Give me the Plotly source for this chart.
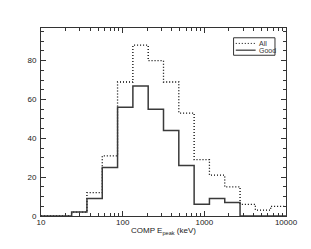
import numpy as np
import plotly.graph_objects as go

# 16 logarithmic bins from 10 keV to 10000 keV
bin_edges = np.logspace(1, 4, 17)
all_counts = [0, 0, 2, 12, 31, 69, 88, 80, 69, 53, 29, 21, 15, 6, 3, 5]
good_counts = [0, 0, 2, 9, 25, 56, 67, 55, 44, 26, 6, 9, 7, 0, 0, 0]
x_tickvals = [10, 100, 1000, 10000]
x_ticktext = ["10", "100", "1000", "10000"]
y_tickvals = [0, 20, 40, 60, 80]
x_title = "COMP E<sub>peak</sub> (keV)"

FONT = "Liberation Sans, Arial, sans-serif"

fig = go.Figure()
fig.add_trace(go.Scatter(
    x=list(bin_edges), y=all_counts + [all_counts[-1]],
    mode="lines", line=dict(shape="hv", color="black", width=1.3, dash="1px,2px"),
    name="All", showlegend=False))
fig.add_trace(go.Scatter(
    x=list(bin_edges), y=good_counts + [good_counts[-1]],
    mode="lines", line=dict(shape="hv", color="#3a3a3a", width=1.5),
    name="Good", showlegend=False))

minor_x = [m * d for d in (10, 100, 1000) for m in range(2, 10)]

fig.update_xaxes(
    type="log", range=[1, 4],
    tickmode="array", tickvals=x_tickvals, ticktext=x_ticktext,
    ticks="inside", ticklen=5, tickwidth=1, tickcolor="#333",
    minor=dict(tickmode="array", tickvals=minor_x, ticks="inside", ticklen=3,
               tickcolor="#333", showgrid=False),
    showline=True, linecolor="#333", linewidth=1, mirror="ticks",
    showgrid=False, zeroline=False,
    ticklabelstandoff=-2,
    tickfont=dict(family=FONT, size=8, color="#222"),
)
fig.update_yaxes(
    range=[0, 96.8],
    tickmode="array", tickvals=y_tickvals,
    ticks="inside", ticklen=5, tickwidth=1, tickcolor="#333",
    minor=dict(dtick=5, ticks="inside", ticklen=3, tickcolor="#333", showgrid=False),
    showline=True, linecolor="#333", linewidth=1, mirror="ticks",
    showgrid=False, zeroline=False,
    ticklabelstandoff=2,
    tickfont=dict(family=FONT, size=8, color="#222"),
)

# x-axis title
fig.add_annotation(xref="paper", yref="paper", x=0.5, y=-0.082, text=x_title,
                   showarrow=False, xanchor="center", yanchor="middle",
                   font=dict(family=FONT, size=8, color="#222"))

# manual legend box
fig.add_shape(type="rect", xref="paper", yref="paper",
              x0=0.786, x1=0.955, y0=0.855, y1=0.948,
              line=dict(color="#333", width=1), fillcolor="white")
fig.add_shape(type="line", xref="paper", yref="paper",
              x0=0.795, x1=0.876, y0=0.918, y1=0.918,
              line=dict(color="black", width=1, dash="1px,2px"))
fig.add_shape(type="line", xref="paper", yref="paper",
              x0=0.795, x1=0.876, y0=0.882, y1=0.882,
              line=dict(color="#333", width=1.2))
fig.add_annotation(xref="paper", yref="paper", x=0.882, y=0.918, text="All",
                   showarrow=False, xanchor="left", yanchor="middle",
                   font=dict(family=FONT, size=7, color="#333"))
fig.add_annotation(xref="paper", yref="paper", x=0.882, y=0.882, text="Good",
                   showarrow=False, xanchor="left", yanchor="middle",
                   font=dict(family=FONT, size=7, color="#333"))

fig.update_layout(
    width=311, height=249,
    margin=dict(l=41, r=25, t=28, b=33),
    paper_bgcolor="white", plot_bgcolor="white",
    showlegend=False,
)

fig.write_html(
    "out.html",
    config={"displayModeBar": False, "staticPlot": True},
    post_script="document.body.style.margin='0';document.body.style.overflow='hidden';",
)
